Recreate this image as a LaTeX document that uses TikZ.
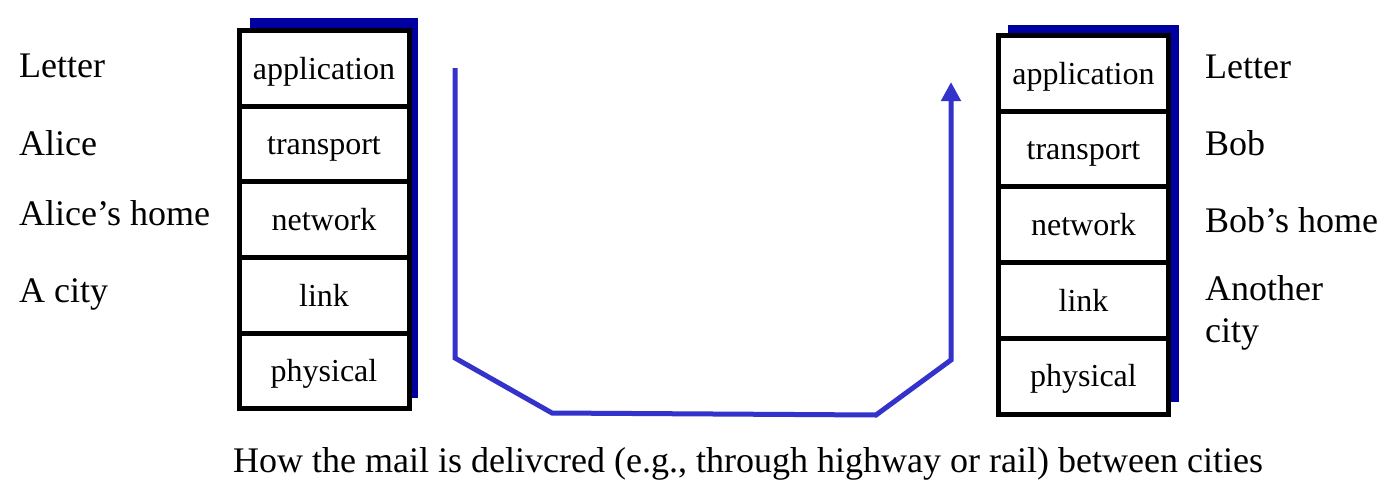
\documentclass[tikz,border=0pt]{standalone}
\usepackage{fontspec}
\setmainfont{Liberation Serif}
\usetikzlibrary{arrows.meta,backgrounds,calc,positioning}
\definecolor{MailBlue}{HTML}{3333CC}
\definecolor{StackShade}{HTML}{0000A0}

\begin{document}
\begin{tikzpicture}[x=1pt,y=-1pt,
      layer/.style={draw,line width=5pt,fill=white,minimum width=170pt,
        minimum height=75.7pt,inner sep=0pt,outer sep=0pt,
        text height=23pt,text depth=1.6pt,
        font=\fontsize{32}{36}\selectfont},
      tag/.style={anchor=base west,inner sep=0pt,align=left,
        font=\fontsize{36}{42}\selectfont},
      shade/.style={fill=StackShade},
      mailpath/.style={-{Triangle[length=19pt,width=19pt]},line width=5pt,draw=MailBlue}
    ]
    \path[use as bounding box] (0,0) rectangle (1393,488);

    % sender stack
    \node[layer] (lapp) at (324,68.3) {application};
    \node[layer,below=0pt of lapp] (ltra) {transport};
    \node[layer,below=0pt of ltra] (lnet) {network};
    \node[layer,below=0pt of lnet] (llnk) {link};
    \node[layer,below=0pt of llnk] (lphy) {physical};

    % receiver stack
    \node[layer] (rapp) at (1083.5,73.4) {application};
    \node[layer,below=0pt of rapp] (rtra) {transport};
    \node[layer,below=0pt of rtra] (rnet) {network};
    \node[layer,below=0pt of rnet] (rlnk) {link};
    \node[layer,below=0pt of rlnk] (rphy) {physical};

    \begin{scope}[on background layer]
      \fill[shade] ($(lapp.north west)+(10.5,-12.5)$) rectangle ($(lphy.south east)+(8.5,-10.5)$);
      \fill[shade] ($(rapp.north west)+(9.5,-10.5)$) rectangle ($(rphy.south east)+(10,-12)$);
    \end{scope}

    \node[tag] (lletter) at (19,77) {Letter};
    \node[tag] (lalice) at (19,155) {Alice};
    \node[tag] (lhome) at (19,225) {Alice’s home};
    \node[tag] (lcity) at (19,302) {A city};

    \node[tag] (rletter) at (1205,78) {Letter};
    \node[tag] (rbob) at (1205,155) {Bob};
    \node[tag] (rhome) at (1205,232) {Bob’s home};
    \node[tag] (rcity) at (1205,342) {Another\\city};

    \coordinate (mailstart) at (455,68);
    \coordinate (mailend) at (951,82);
    \draw[mailpath] (mailstart) -- (455,358) -- (552,413) -- (876,415)
      -- (951,360) -- (mailend);

    \node[tag] (howmail) at (233,472)
      {How the mail is delivcred (e.g., through highway or rail) between cities};
  \end{tikzpicture}
\end{document}
